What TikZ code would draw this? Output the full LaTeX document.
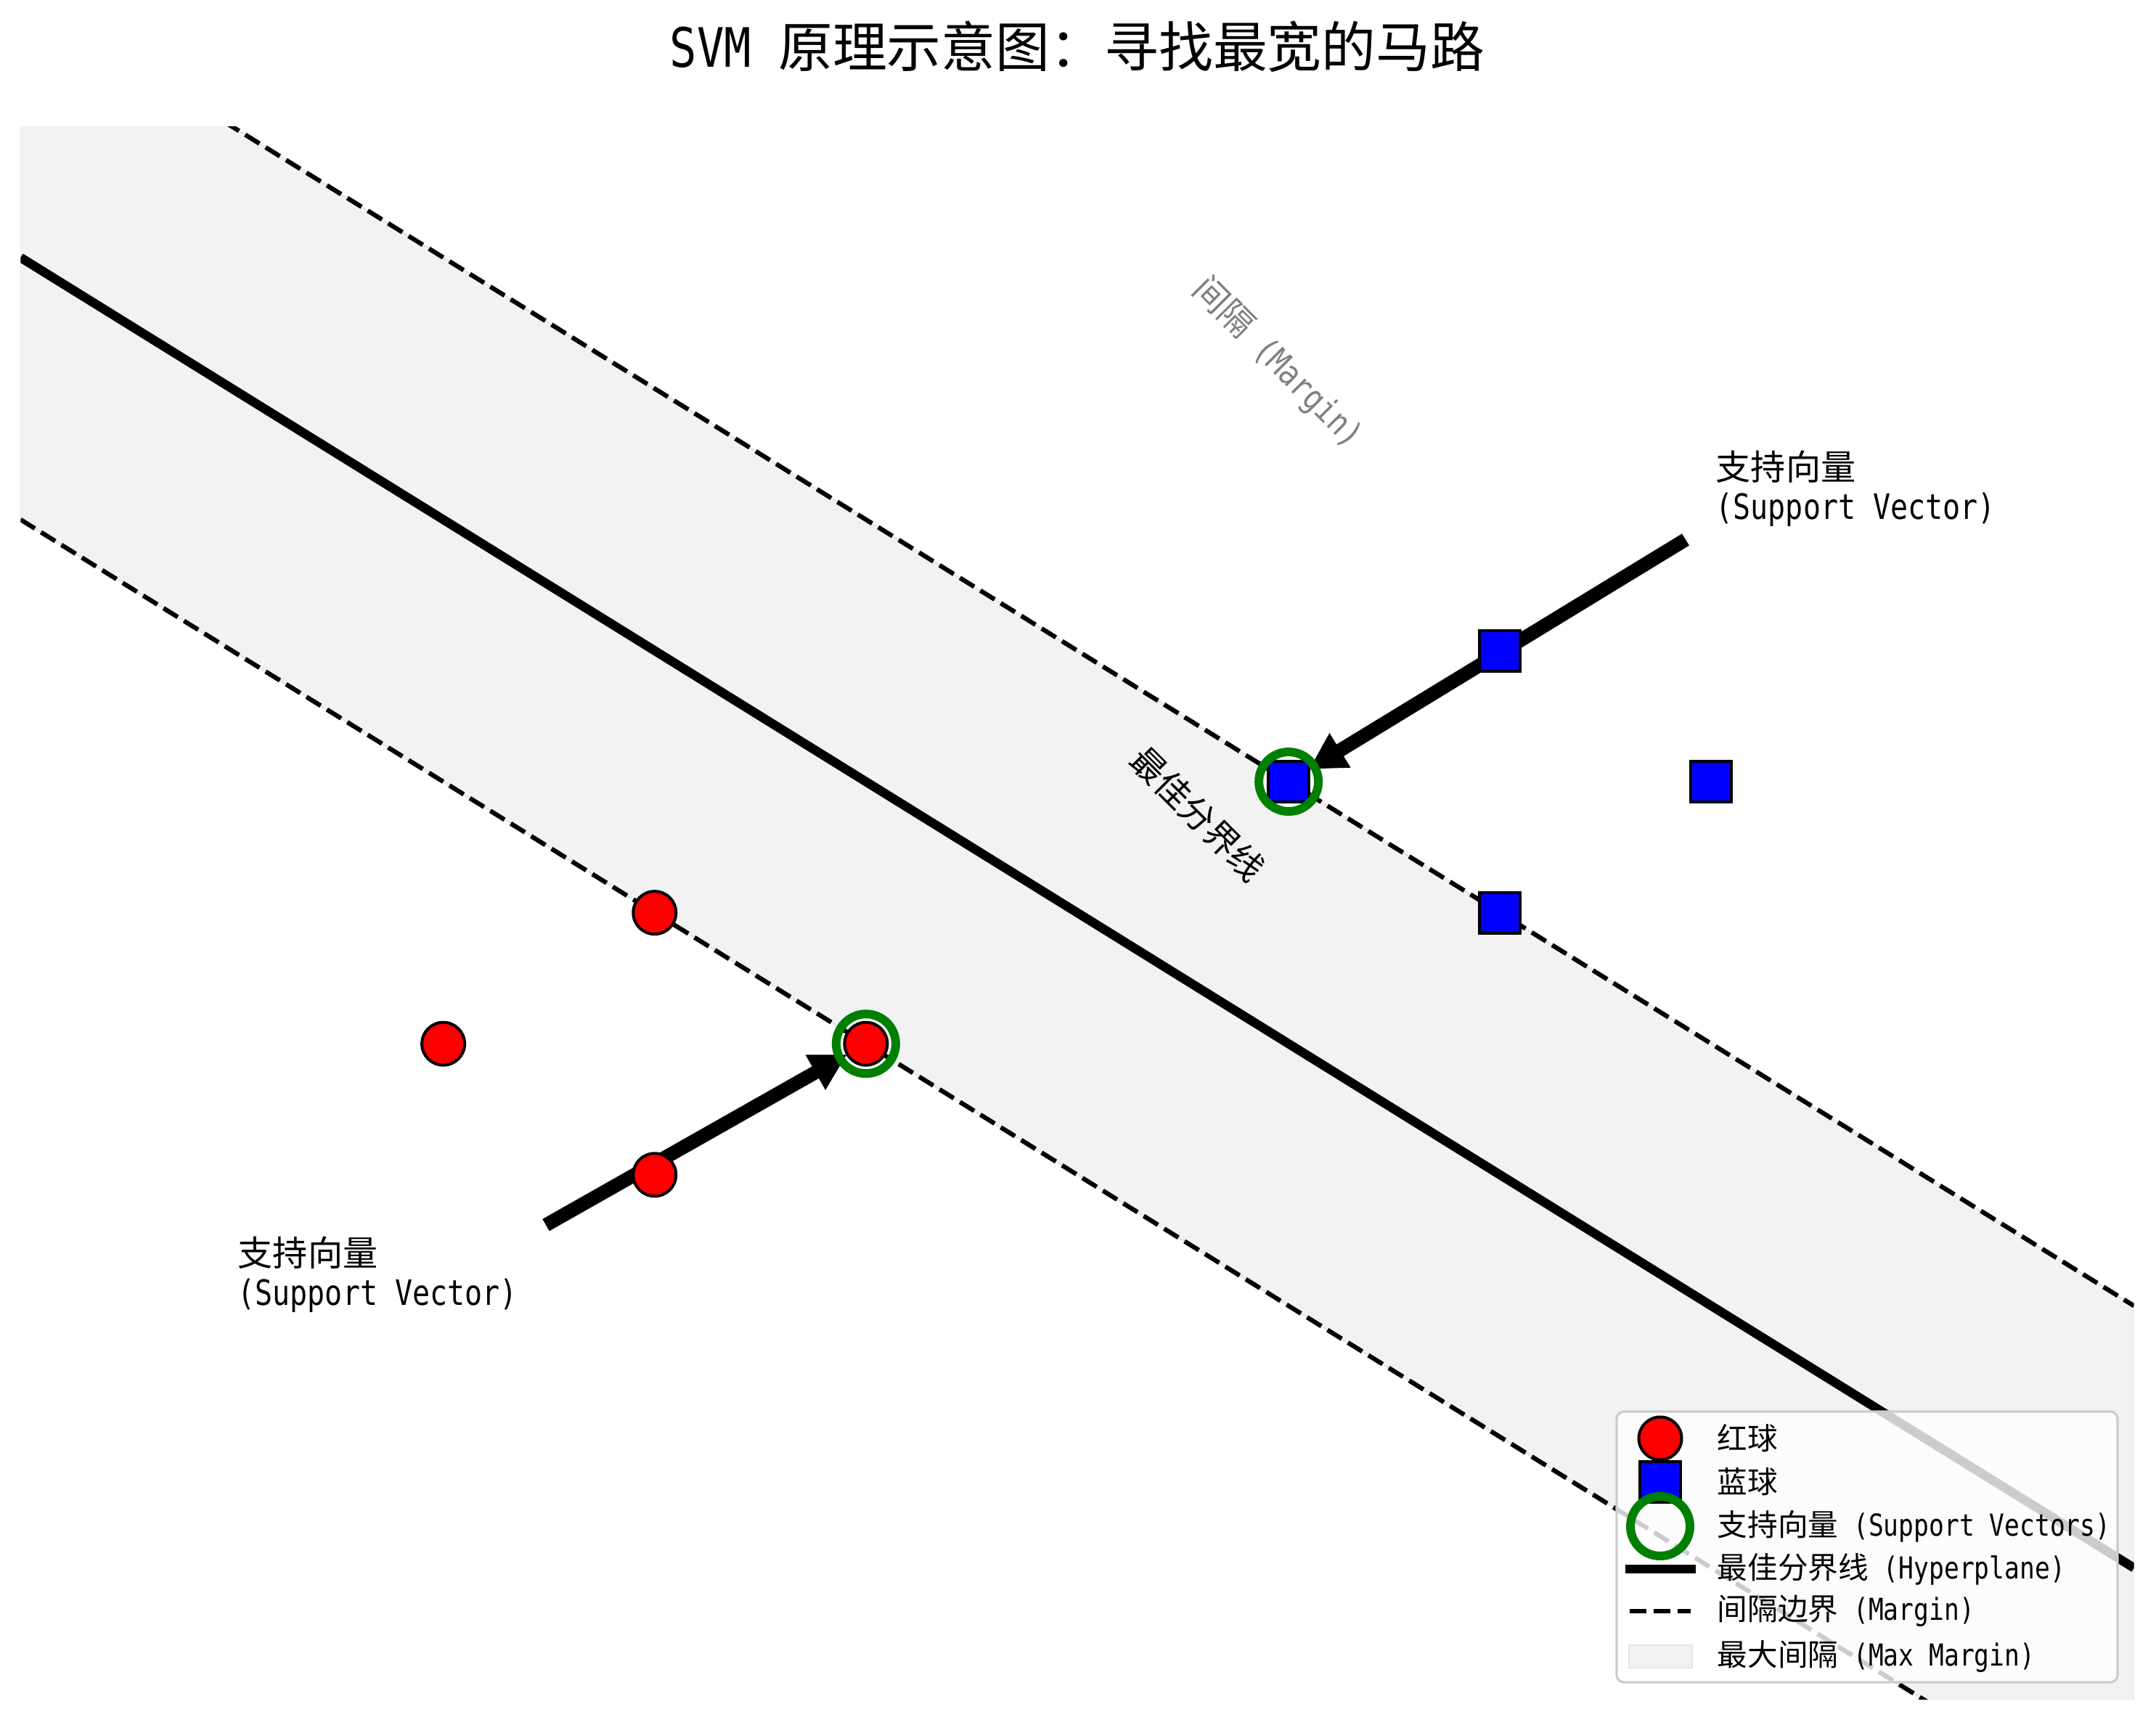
\documentclass[tikz,border=0pt]{standalone}
\usepackage{fontspec}
\newfontfamily\cjk{Noto Sans CJK SC}
\newfontfamily\mono[FakeStretch=0.83]{DejaVu Sans Mono}
\usetikzlibrary{arrows.meta,positioning}
\definecolor{svred}{HTML}{FF0000}
\definecolor{svblue}{HTML}{0000FF}
\definecolor{svgreen}{HTML}{008000}
\definecolor{roadgray}{HTML}{F2F2F2}
\definecolor{roadedge}{HTML}{E4E4E4}
\definecolor{framegray}{HTML}{CCCCCC}
\begin{document}
\begin{tikzpicture}[
  redpt/.style={circle,draw=black,fill=svred,line width=0.04cm,inner sep=0pt,minimum size=0.59cm},
  bluept/.style={rectangle,draw=black,fill=svblue,line width=0.04cm,inner sep=0pt,minimum size=0.56cm},
  svring/.style={circle,draw=svgreen,line width=0.12cm,inner sep=0pt,minimum size=0.82cm},
  svhalo/.style={circle,draw=white,line width=0.045cm,inner sep=0pt,minimum size=0.67cm},
  hyper/.style={line width=0.125cm},
  marginline/.style={line width=0.0625cm,dash pattern=on 0.231cm off 0.1cm},
  svarrow/.style={line width=0.19cm,-{Triangle[width=0.52cm,length=0.5cm]}},
  lbl/.style={font=\fontsize{13.7pt}{15.4pt}\selectfont,align=left,inner sep=0pt,anchor=west},
  legtxt/.style={font=\fontsize{11.86pt}{14pt}\selectfont,inner sep=0pt,anchor=west}]
  \useasboundingbox (0,0) rectangle (29.7,23.69);
  \node[font=\fontsize{21.3pt}{25pt}\selectfont] (title) at (14.84,23.05) {\mono SVM\ \cjk 原理示意图：寻找最宽的马路};
  % data frame: x from -1 to 9, y from -2 to 10
  \begin{scope}[x=2.9113cm,y=1.8056cm,shift={(3.195cm,3.891cm)}]
    \begin{scope}
      \clip (-1,-2) rectangle (9,10);
      \filldraw[fill=roadgray,draw=roadedge,line width=0.02cm] (-1,7) -- (9,-3) -- (9,1) -- (-1,11) -- cycle;
      \node[svhalo] at (3,3) {};
      \node[svhalo] at (5,5) {};
      \draw[hyper] (-1,9) -- (9,-1);
      \draw[marginline] (-1,7) -- (9,-3);
      \draw[marginline] (-1,11) -- (9,1);
    \end{scope}
    \coordinate (r4c) at (3,3);
    \coordinate (b1c) at (5,5);
  \end{scope}
  % arrows from the labels
  \coordinate (tailU) at (23.22,16.255);
  \coordinate (tailL) at (7.52,6.81);
  \draw[svarrow,shorten >=0.33cm] (tailU) -- (b1c);
  \draw[svarrow,shorten >=0.3cm] (tailL) -- (r4c);
  \begin{scope}[x=2.9113cm,y=1.8056cm,shift={(3.195cm,3.891cm)}]
    \node[redpt] (r1) at (1,3) {};
    \node[redpt] (r2) at (2,4) {};
    \node[redpt] (r3) at (2,2) {};
    \node[redpt] (r4) at (3,3) {};
    \node[bluept] (b1) at (5,5) {};
    \node[bluept] (b2) at (6,6) {};
    \node[bluept] (b3) at (7,5) {};
    \node[bluept] (b4) at (6,4) {};
    \node[svring] (svr) at (r4) {};
    \node[svring] (svb) at (b1) {};
  \end{scope}
  \node[lbl] (labU) at (23.63,16.96) {\cjk 支持向量\\\mono (Support Vector)};
  \node[lbl] (labL) at (3.27,6.13) {\cjk 支持向量\\\mono (Support Vector)};
  \node[font=\fontsize{13.5pt}{15pt}\selectfont,text=gray,rotate=-45,inner sep=0pt] (gap) at (17.6,18.69) {\cjk 间隔\mono\ (Margin)};
  \node[font=\fontsize{13.5pt}{15pt}\selectfont,rotate=-45,inner sep=0pt] (best) at (16.50,12.47) {\cjk 最佳分界线};
  % legend
  \draw[rounded corners=0.1cm,fill=white,fill opacity=0.8,draw=framegray,line width=0.033cm] (22.27,0.51) rectangle (29.17,4.24);
  \node[redpt] (kr) at (22.87,3.87) {};
  \node[bluept] (kb) at (22.87,3.27) {};
  \node[svring] (ks) at (22.87,2.66) {};
  \draw[hyper] (22.39,2.07) -- (23.36,2.07);
  \draw[marginline] (22.45,1.49) -- (23.29,1.49);
  \filldraw[fill=roadgray,draw=roadedge,line width=0.02cm] (22.44,0.71) rectangle (23.31,1.02);
  \node[legtxt] at (23.65,3.87) {\cjk 红球};
  \node[legtxt] at (23.65,3.27) {\cjk 蓝球};
  \node[legtxt] at (23.65,2.66) {\cjk 支持向量\mono\ (Support Vectors)};
  \node[legtxt] at (23.65,2.07) {\cjk 最佳分界线\mono\ (Hyperplane)};
  \node[legtxt] at (23.65,1.49) {\cjk 间隔边界\mono\ (Margin)};
  \node[legtxt] at (23.65,0.87) {\cjk 最大间隔\mono\ (Max Margin)};
\end{tikzpicture}
\end{document}
